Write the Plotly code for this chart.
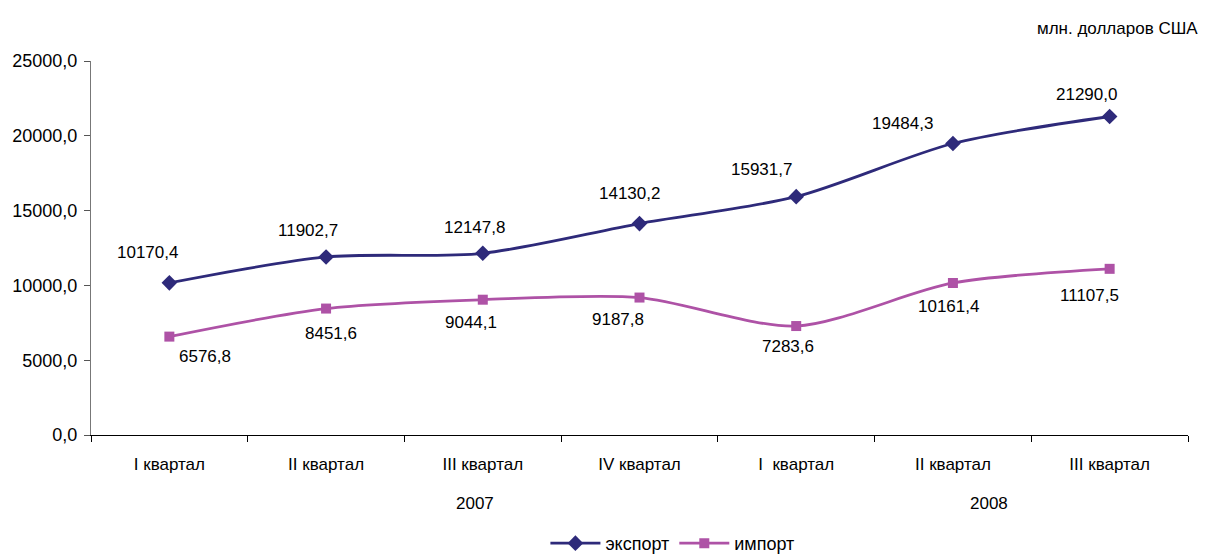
import plotly.graph_objects as go

quarters = ["I квартал", "II квартал", "III квартал", "IV квартал",
            "I\u00a0\u00a0квартал", "II квартал", "III квартал"]
years = ["2007", "2008"]
export_vals = [10170.4, 11902.7, 12147.8, 14130.2, 15931.7, 19484.3, 21290.0]
import_vals = [6576.8, 8451.6, 9044.1, 9187.8, 7283.6, 10161.4, 11107.5]
y_ticks = [0, 5000, 10000, 15000, 20000, 25000]

export_color = "#2E2A7A"
import_color = "#AE52A6"
font_family = "Liberation Sans, Arial, sans-serif"

x = list(range(len(quarters)))

def fmt(v):
    return f"{v:.1f}".replace(".", ",")

fig = go.Figure()
fig.add_trace(go.Scatter(
    x=x, y=export_vals, name="экспорт", mode="lines+markers",
    line=dict(color=export_color, width=2.8, shape="spline", smoothing=0.8),
    marker=dict(symbol="diamond", size=12, color=export_color),
))
fig.add_trace(go.Scatter(
    x=x, y=import_vals, name="импорт", mode="lines+markers",
    line=dict(color=import_color, width=2.8, shape="spline", smoothing=0.8),
    marker=dict(symbol="square", size=10, color=import_color),
))

# label offsets (pixels)
exp_shift = [(-22, 30), (-18, 26), (-8, 26), (-10, 30), (-35, 27), (-50, 20), (-23, 22)]
imp_shift = [(36, -20), (5, -25), (-12, -23), (-22, -22), (-8, -20), (-4, -24), (-20, -27)]
lab_font = dict(size=17, color="#000")
annotations = []
for i, v in enumerate(export_vals):
    dx, dy = exp_shift[i]
    annotations.append(dict(x=i, y=v, xref="x", yref="y", text=fmt(v), showarrow=False,
                            xshift=dx, yshift=dy, font=lab_font))
for i, v in enumerate(import_vals):
    dx, dy = imp_shift[i]
    annotations.append(dict(x=i, y=v, xref="x", yref="y", text=fmt(v), showarrow=False,
                            xshift=dx, yshift=dy, font=lab_font))
# year labels
annotations.append(dict(x=1.95, y=0, xref="x", yref="y", text=years[0], showarrow=False,
                        yshift=-68, font=lab_font))
annotations.append(dict(x=5.23, y=0, xref="x", yref="y", text=years[1], showarrow=False,
                        yshift=-68, font=lab_font))
annotations.append(dict(x=1, y=1, xref="paper", yref="paper", xanchor="right", yanchor="middle",
                        text="млн. долларов США", showarrow=False, yshift=33, xshift=12,
                        font=lab_font))

fig.update_layout(
    width=1203, height=548,
    margin=dict(l=83, r=23, t=53, b=121, autoexpand=False),
    plot_bgcolor="white", paper_bgcolor="white",
    font=dict(family=font_family, size=18, color="#000"),
    separators=", ",
    showlegend=True,
    legend=dict(orientation="h", x=0.53, xanchor="center", y=-0.29, yanchor="middle",
                font=dict(size=18), itemwidth=50, tracegroupgap=0),
    annotations=annotations,
)
fig.update_xaxes(
    range=[-0.5, 6.5], tickmode="array", tickvals=x, ticktext=quarters,
    ticks="", showgrid=False, zeroline=False, showline=True, linecolor="#000", linewidth=1,
    ticklabelstandoff=14, tickfont=dict(size=17),
    minor=dict(tickmode="linear", tick0=-0.5, dtick=1, ticks="outside", ticklen=6,
               tickcolor="#000", showgrid=False),
)
fig.update_yaxes(
    range=[0, 25000], tickmode="array", tickvals=y_ticks, tickformat=".1f",
    ticks="outside", ticklen=6, tickcolor="#555", showgrid=False, zeroline=False,
    showline=True, linecolor="#777", linewidth=1, ticklabelstandoff=3,
)
fig.write_html("out.html")
